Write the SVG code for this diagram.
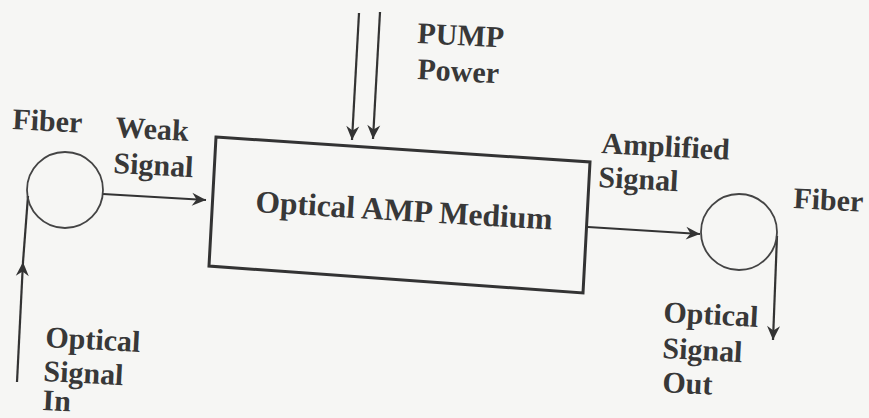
<svg xmlns="http://www.w3.org/2000/svg" width="869" height="418" viewBox="0 0 869 418">
  <defs>
    <marker id="arr" viewBox="-15 -7 16 14" refX="0" refY="0" markerWidth="16" markerHeight="14" markerUnits="userSpaceOnUse" orient="auto">
      <path d="M0,0 L-14,-6.5 L-9.5,0 L-14,6.5 Z" fill="#333"/>
    </marker>
  </defs>
  <style>
    .t { font-family: "Liberation Serif", "Times New Roman", serif; font-weight: bold; font-size: 30px; fill: #383838; }
    .big { font-size: 31.5px; }
    .ln { stroke: #333; stroke-width: 2.2; fill: none; }
    .box { stroke: #333; stroke-width: 3; fill: none; }
    .fiber { stroke: #444; stroke-width: 1.8; fill: none; }
  </style>
  <rect x="0" y="0" width="869" height="418" fill="#f6f6f4"/>

  <g id="connectors">
    <path class="ln" d="M359,13 L352,140" marker-end="url(#arr)"/>
    <path class="ln" d="M380,12 L373,139" marker-end="url(#arr)"/>
    <path class="ln" d="M17,382 L23,262" marker-end="url(#arr)"/>
    <path class="ln" d="M23,262 L28,196"/>
    <path class="ln" d="M103,194 L206,200" marker-end="url(#arr)"/>
    <path class="ln" d="M588,227 L700,234" marker-end="url(#arr)"/>
    <path class="ln" d="M777,236 L773,340" marker-end="url(#arr)"/>
  </g>

  <g id="amp-medium">
    <polygon class="box" points="216,137 590,162 583,293 209,266"/>
    <text class="t big" x="255" y="212" transform="rotate(3.4 255 212)">Optical AMP Medium</text>
  </g>

  <g id="fiber-in">
    <circle class="fiber" cx="65" cy="190" r="38"/>
    <text class="t" x="12" y="129" transform="rotate(3 12 129)">Fiber</text>
  </g>

  <g id="fiber-out">
    <circle class="fiber" cx="739" cy="232" r="38"/>
    <text class="t" x="793" y="208" transform="rotate(3 793 208)">Fiber</text>
  </g>

  <g id="pump-label">
    <text class="t" x="417" y="43" transform="rotate(3 417 43)">PUMP</text>
    <text class="t" x="417" y="79" transform="rotate(3 417 79)">Power</text>
  </g>

  <g id="weak-label">
    <text class="t" x="115" y="137" transform="rotate(3 115 137)">Weak</text>
    <text class="t" x="113" y="173" transform="rotate(3 113 173)">Signal</text>
  </g>

  <g id="amplified-label">
    <text class="t" x="601" y="153" transform="rotate(3 601 153)">Amplified</text>
    <text class="t" x="598" y="187" transform="rotate(3 598 187)">Signal</text>
  </g>

  <g id="in-label">
    <text class="t" x="45" y="347" transform="rotate(3 45 347)">Optical</text>
    <text class="t" x="43" y="381" transform="rotate(3 43 381)">Signal</text>
    <text class="t" x="42" y="410" transform="rotate(3 42 410)">In</text>
  </g>

  <g id="out-label">
    <text class="t" x="663" y="322" transform="rotate(3 663 322)">Optical</text>
    <text class="t" x="662" y="358" transform="rotate(3 662 358)">Signal</text>
    <text class="t" x="662" y="392" transform="rotate(3 662 392)">Out</text>
  </g>
</svg>
